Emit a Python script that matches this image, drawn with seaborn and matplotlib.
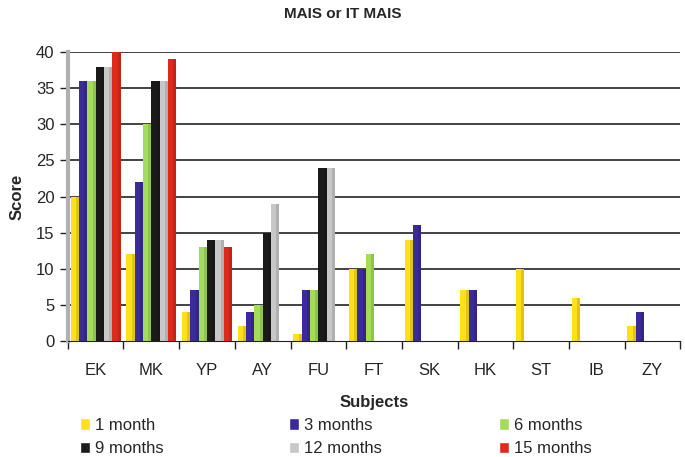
import numpy as np
import pandas as pd
import matplotlib
matplotlib.use('Agg')
import matplotlib.pyplot as plt
import seaborn as sns
from matplotlib.patches import Patch

subjects = ['EK', 'MK', 'YP', 'AY', 'FU', 'FT', 'SK', 'HK', 'ST', 'IB', 'ZY']
periods = ['1 month', '3 months', '6 months', '9 months', '12 months', '15 months']
m1 = [20, 12, 4, 2, 1, 10, 14, 7, 10, 6, 2]
m3 = [36, 22, 7, 4, 7, 10, 16, 7, 0, 0, 4]
m6 = [36, 30, 13, 5, 7, 12, 0, 0, 0, 0, 0]
m9 = [38, 36, 14, 15, 24, 0, 0, 0, 0, 0, 0]
m12 = [38, 36, 14, 19, 24, 0, 0, 0, 0, 0, 0]
m15 = [40, 39, 13, 0, 0, 0, 0, 0, 0, 0, 0]
colors = ['#FFE01A', '#3A2A9A', '#A4DC5A', '#1A1A1A', '#C8C8C8', '#DD2A1A']

rows = []
for p, vals in zip(periods, [m1, m3, m6, m9, m12, m15]):
    for s, v in zip(subjects, vals):
        rows.append({'Subjects': s, 'Period': p, 'Score': v})
df = pd.DataFrame(rows)

sns.set_style('white')
plt.rcParams['font.family'] = ['Liberation Sans', 'DejaVu Sans']

fig = plt.figure(figsize=(6.85, 4.57), dpi=100)
ax = fig.add_axes([0.099, 0.254, 0.894, 0.632])

for y in range(5, 45, 5):
    ax.axhline(y, color='#222222', lw=1.2, zorder=0)

sns.barplot(data=df, x='Subjects', y='Score', hue='Period', hue_order=periods,
            palette=colors, width=0.9, saturation=1, ax=ax, legend=False, zorder=2)

# darker side face to hint the 3D look
for bar in list(ax.patches):
    if bar.get_height() > 0:
        bar.set_edgecolor('none')
        x0 = bar.get_x() + bar.get_width() * 0.65
        fc = bar.get_facecolor()
        ax.add_patch(plt.Rectangle((x0, 0), bar.get_width() * 0.35, bar.get_height(),
                                   facecolor=tuple(c * 0.88 for c in fc[:3]), edgecolor='none', zorder=3))

ax.set_ylim(0, 40)
ax.set_xlim(-0.5, 10.5)
ax.set_yticks(range(0, 45, 5))
ax.set_xticks(np.arange(-0.5, 11, 1), minor=True)
ax.tick_params(axis='x', which='major', length=0, labelsize=12, pad=16)
ax.tick_params(axis='x', which='minor', length=6, width=1, color='#222222', direction='out', bottom=True)
ax.tick_params(axis='y', length=6, width=1, color='#222222', labelsize=12, left=True)
for s in ['top', 'right']:
    ax.spines[s].set_visible(False)
ax.spines['bottom'].set_color('#222222')
ax.spines['left'].set_color('#b0b0b0')
ax.spines['left'].set_linewidth(3)

ax.set_xlabel('Subjects', fontsize=12, fontweight='bold', labelpad=12)
ax.set_ylabel('Score', fontsize=12, fontweight='bold', labelpad=8)
fig.suptitle('MAIS or IT MAIS', fontsize=11, fontweight='bold', y=0.985)

# legend: three columns, filled row by row
handles = [Patch(facecolor=c, label=p) for p, c in zip(periods, colors)]
col_x = [0.117, 0.422, 0.728]
for j, x in enumerate(col_x):
    hs = [handles[j], handles[j + 3]]
    fig.legend(hs, [h.get_label() for h in hs], loc='upper left',
               bbox_to_anchor=(x, 0.085), ncol=1, frameon=False,
               fontsize=12, handlelength=0.6, handleheight=0.7, handletextpad=0.3,
               labelspacing=0.5, borderaxespad=0, borderpad=0)

fig.savefig('out.png', dpi=100)
